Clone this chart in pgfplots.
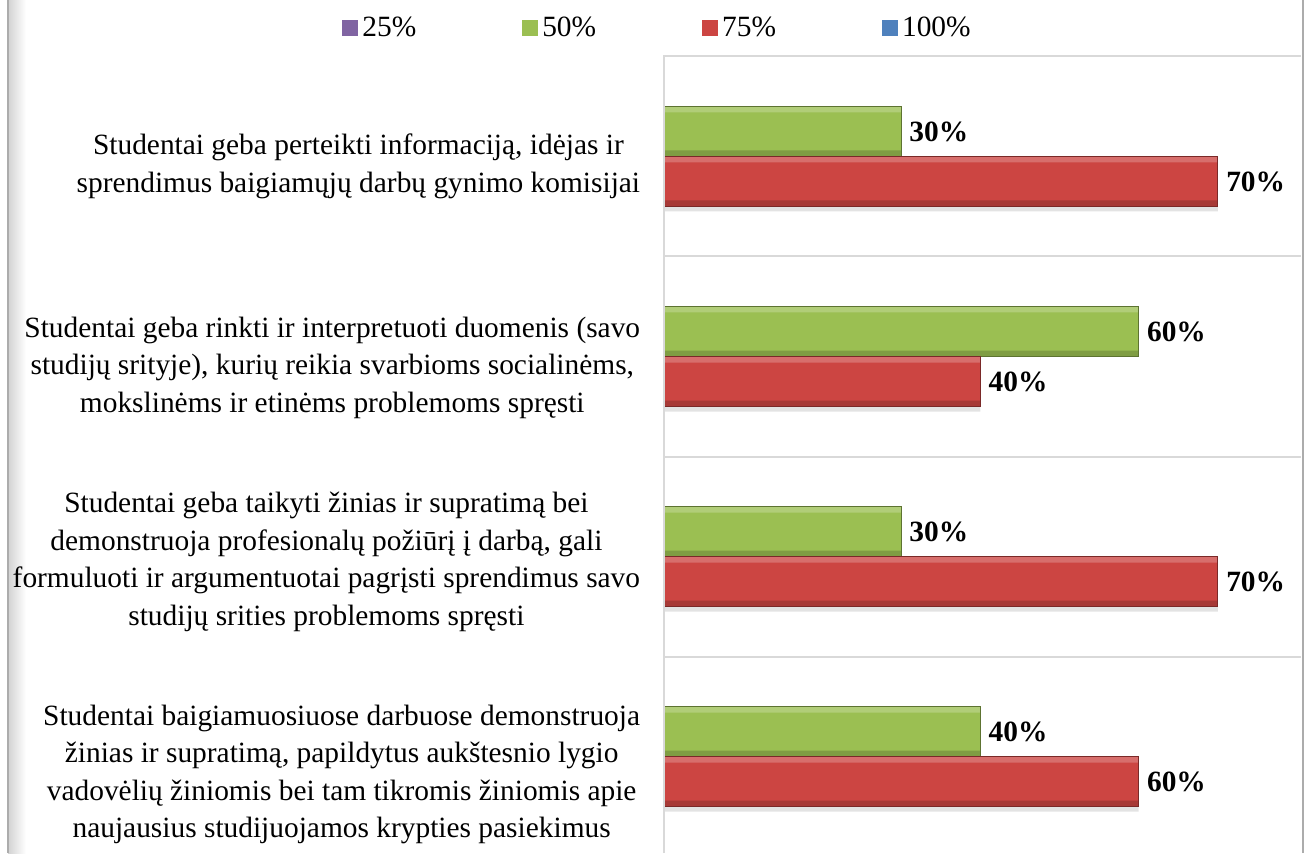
\documentclass[border=0pt]{standalone}
\usepackage{fontspec}
\setmainfont{Liberation Serif}
\usepackage{pgfplots}
\pgfplotsset{compat=1.18}
\definecolor{cgreen}{HTML}{9BBF52}
\definecolor{cred}{HTML}{CC4542}
\definecolor{cpurple}{HTML}{8064A2}
\definecolor{cblue}{HTML}{4F81BD}
\newcommand\lblfont{\fontsize{14.7pt}{18.75pt}\selectfont}
\newcommand\lbl[1]{{\lblfont\begin{tabular}{@{}c@{}}#1\end{tabular}}}
\pgfplotsset{legsq/.style={legend image code/.code={\draw[##1, draw=none] (0pt,-4pt) rectangle (8pt,4pt);}}}
\pgfplotstableread{
y g r
0 40 60
1 30 70
2 60 40
3 30 70
}\datatab
\begin{document}
\begin{tikzpicture}
\useasboundingbox (0,0) rectangle (652pt,426.5pt);
\shade[left color=gray!35, right color=white] (4pt,0) rectangle (13pt,426.5pt);
\draw[gray!65, line width=1pt] (4pt,0) -- (4pt,426.5pt);
\draw[gray!65, line width=1pt] (651.3pt,0) -- (651.3pt,426.5pt);
\begin{axis}[
  at={(331.75pt,0pt)}, anchor=south west,
  scale only axis, width=318.75pt, height=398.25pt,
  xbar,
  xmin=0, xmax=80.5, ymin=-0.4825, ymax=3.5,
  ytick={0,1,2,3},
  yticklabels={
    {\lbl{Studentai baigiamuosiuose darbuose demonstruoja\\žinias ir supratimą, papildytus aukštesnio lygio\\vadovėlių žiniomis bei tam tikromis žiniomis apie\\naujausius studijuojamos krypties pasiekimus}},
    {\lbl{Studentai geba taikyti žinias ir supratimą bei\\demonstruoja profesionalų požiūrį į darbą, gali\\formuluoti ir argumentuotai pagrįsti sprendimus savo\\studijų srities problemoms spręsti}},
    {\lbl{Studentai geba rinkti ir interpretuoti duomenis (savo\\studijų srityje), kurių reikia svarbioms socialinėms,\\mokslinėms ir etinėms problemoms spręsti}},
    {\lbl{Studentai geba perteikti informaciją, idėjas ir\\sprendimus baigiamųjų darbų gynimo komisijai}}},
  minor ytick={0.5,1.5,2.5},
  yminorgrids, minor grid style={color=gray!30, line width=1pt},
  xtick=\empty,
  major tick length=0pt, minor tick length=0pt,
  axis line style={draw=none},
  yticklabel style={font=\lblfont, anchor=east, inner sep=0pt, xshift=-11.5pt,
    yshift={-(\ticknum==3)*4.75pt-(\ticknum==2)*5.25pt-(\ticknum==1)*2.5pt-(\ticknum==0)*8.75pt}},
  point meta=x,
  legend image code/.code={\draw[#1, draw=none] (0pt,-4pt) rectangle (8pt,4pt);},
  legend columns=4,
  legend style={draw=none, fill=none, font=\lblfont, at={(-0.0078,1.0358)}, anchor=center,
    /tikz/every even column/.append style={column sep=51pt}},
  clip=false,
]
\addlegendimage{legsq, fill=cpurple}
\addlegendentry{25\%}
% 50% series (green)
\addplot[legsq, bar width=25pt, bar shift=12.5pt, draw=none, fill=cgreen]
  table[x=g, y=y] {\datatab};
\addlegendentry{50\%}
% 75% series (red)
\addplot[legsq, bar width=25pt, bar shift=-12.5pt, draw=none, fill=cred]
  table[x=r, y=y] {\datatab};
\addlegendentry{75\%}
\addlegendimage{legsq, fill=cblue}
\addlegendentry{100\%}
% soft shadow under the lower bars
\addplot[forget plot, bar width=2.5pt, bar shift=-26.25pt, draw=none, fill=gray!22] table[x=r, y=y] {\datatab};
% bevel strips
\addplot[forget plot, bar width=3pt, bar shift=23.5pt, draw=none, fill=cgreen!78!white] table[x=g, y=y] {\datatab};
\addplot[forget plot, bar width=3pt, bar shift=1.5pt, draw=none, fill=cgreen!82!black] table[x=g, y=y] {\datatab};
\addplot[forget plot, bar width=3pt, bar shift=-1.5pt, draw=none, fill=cred!78!white] table[x=r, y=y] {\datatab};
\addplot[forget plot, bar width=3pt, bar shift=-23.5pt, draw=none, fill=cred!82!black] table[x=r, y=y] {\datatab};
% outlines and value labels
\addplot[forget plot, bar width=25pt, bar shift=12.5pt, draw=cgreen!60!black, fill=none,
  nodes near coords={\pgfmathprintnumber[assume math mode=true]{\pgfplotspointmeta}\%},
  nodes near coords style={font=\lblfont\bfseries, anchor=west, inner sep=4pt, text=black}]
  table[x=g, y=y] {\datatab};
\addplot[forget plot, bar width=25pt, bar shift=-12.5pt, draw=cred!60!black, fill=none,
  nodes near coords={\pgfmathprintnumber[assume math mode=true]{\pgfplotspointmeta}\%},
  nodes near coords style={font=\lblfont\bfseries, anchor=west, inner sep=4pt, text=black}]
  table[x=r, y=y] {\datatab};
\draw[gray!30, line width=1pt] (rel axis cs:0,0) -- (rel axis cs:0,1) -- (rel axis cs:1,1);
\end{axis}
\end{tikzpicture}
\end{document}
